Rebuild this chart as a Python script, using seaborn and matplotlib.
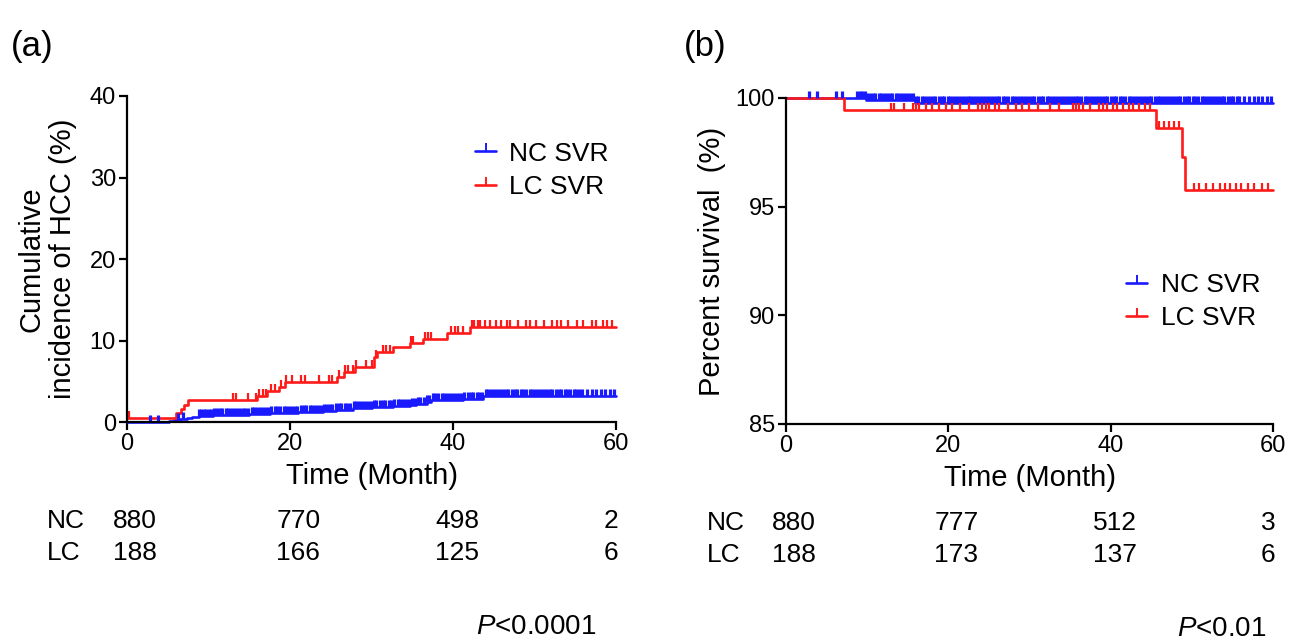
import matplotlib
matplotlib.use("Agg")
import matplotlib.pyplot as plt
from matplotlib.lines import Line2D
import numpy as np
import pandas as pd
import seaborn as sns

# ---- values ----
MONTH_TICKS = [0, 20, 40, 60]
GROUPS = ["NC SVR", "LC SVR"]
PALETTE = {"NC SVR": "#1a1aff", "LC SVR": "#ff1a1a"}
TICK_WIDTH = {"NC SVR": 2.3, "LC SVR": 1.6}

# (a) cumulative incidence of HCC (%), step points
nc_hcc_time = [0, 5.2, 5.8, 6.5, 7.3, 8.0, 8.8, 10.5, 12.5, 15.0, 17.5, 21.0, 24.0,
               25.6, 27.7, 30.0, 32.6, 34.7, 35.5, 36.8, 37.3, 41.2, 43.7, 60]
nc_hcc_pct = [0, 0.11, 0.23, 0.34, 0.45, 0.57, 0.68, 0.8, 0.92, 1.04, 1.16, 1.28, 1.4,
              1.53, 1.66, 1.79, 1.92, 2.1, 2.25, 2.45, 2.65, 2.85, 3.2, 3.2]
lc_hcc_time = [0, 6.0, 6.6, 7.0, 7.5, 16.0, 17.2, 18.6, 19.4, 25.8, 26.6, 28.0, 30.3,
               30.7, 32.6, 34.7, 36.3, 39.3, 42.1, 60]
lc_hcc_pct = [0.53, 1.07, 1.6, 2.13, 2.66, 3.2, 3.8, 4.3, 4.9, 5.5, 6.1, 6.7, 8.0,
              8.6, 9.2, 9.7, 10.2, 10.9, 11.7, 11.7]

# (b) percent survival, step points
nc_surv_time = [0, 9.85, 15.9, 60]
nc_surv_pct = [100, 99.89, 99.77, 99.77]
lc_surv_time = [0, 7.1, 45.6, 48.8, 49.2, 60]
lc_surv_pct = [100, 99.47, 98.6, 97.3, 95.75, 95.75]

# censored observations (months)
nc_censor = [2.8, 3.8, 6.2, 6.9, 8.8, 9.1, 9.4, 9.7, 10.0, 10.3, 10.7, 11.0, 11.4, 11.7,
             12.1, 12.4, 12.8, 13.1, 13.5, 13.8, 14.2, 14.5, 14.9, 15.3, 15.6, 16.0, 16.3,
             16.7, 17.0, 17.4, 17.7, 18.1, 18.4, 18.8, 19.2, 19.5, 19.9, 20.2, 20.6, 20.9,
             21.3, 21.7, 22.0, 22.4, 22.7, 23.1, 23.4, 23.8, 24.2, 24.5, 24.9, 25.2, 25.6,
             26.0, 26.3, 26.7, 27.0, 27.4, 27.8, 28.1, 28.5, 28.8, 29.2, 29.6, 29.9, 30.3,
             30.6, 31.0, 31.4, 31.7, 32.1, 32.4, 32.8, 33.2, 33.5, 33.9, 34.2, 34.6, 35.0,
             35.3, 35.7, 36.0, 36.4, 36.8, 37.1, 37.5, 37.8, 38.2, 38.6, 38.9, 39.3, 39.6,
             40.0, 40.4, 40.7, 41.1, 41.4, 41.8, 42.2, 42.5, 42.9, 43.2, 43.6, 44.0, 44.3,
             44.7, 45.0, 45.4, 45.8, 46.1, 46.5, 46.8, 47.2, 47.6, 47.9, 48.3, 48.6, 49.0,
             49.4, 49.7, 50.1, 50.4, 50.8, 51.2, 51.5, 51.9, 52.2, 52.6, 53.0, 53.3, 53.7,
             54.0, 54.4, 54.8, 55.1, 55.5, 55.8, 56.4, 57.0, 57.6, 58.1, 58.7, 59.3, 59.8]
lc_hcc_censor = [0.2, 13.0, 13.4, 14.8, 15.8, 16.2, 16.7, 17.1, 17.7, 18.1, 18.9, 19.5,
                 20.3, 21.3, 21.8, 23.6, 24.8, 25.2, 26.0, 26.7, 27.1, 27.7, 28.1, 29.3,
                 30.1, 30.5, 31.4, 31.8, 32.3, 34.9, 35.1, 36.5, 36.9, 37.3, 39.8, 40.2,
                 40.6, 41.2, 42.3, 42.6, 43.0, 43.3, 43.9, 44.5, 45.3, 45.9, 46.6, 47.0,
                 48.0, 49.0, 49.4, 50.2, 51.1, 52.1, 52.7, 53.3, 54.1, 55.2, 56.0, 57.0,
                 57.6, 58.4, 58.9, 59.5]
lc_surv_censor = [12.9, 13.3, 14.6, 15.6, 16.0, 16.4, 17.2, 18.0, 18.8, 19.7, 20.5, 21.5,
                  22.5, 23.6, 24.2, 24.6, 25.0, 25.8, 26.2, 27.4, 28.3, 29.1, 29.9, 31.0,
                  32.5, 33.6, 35.3, 35.7, 36.1, 36.6, 37.4, 38.5, 39.0, 39.5, 40.3, 40.8,
                  41.5, 42.2, 42.8, 43.5, 44.2, 44.8, 46.0, 46.6, 47.2, 47.8, 48.4, 50.3,
                  50.9, 51.8, 52.6, 53.5, 54.1, 54.7, 55.4, 56.0, 56.9, 57.7, 58.6, 59.4]

# numbers at risk at 0 / 20 / 40 / 60 months
risk_a = {"NC": [880, 770, 498, 2], "LC": [188, 166, 125, 6]}
risk_b = {"NC": [880, 777, 512, 3], "LC": [188, 173, 137, 6]}

sns.set_theme(style="ticks")
plt.rcParams["font.family"] = ["Liberation Sans", "DejaVu Sans"]
plt.rcParams["mathtext.fontset"] = "custom"
plt.rcParams["mathtext.it"] = "Liberation Sans:italic"
plt.rcParams["mathtext.rm"] = "Liberation Sans"
for key in ["text.color", "axes.labelcolor", "xtick.color", "ytick.color",
            "axes.edgecolor"]:
    plt.rcParams[key] = "black"


def draw_km(ax, curves, censors):
    """curves: {group: (time, pct)}, censors: {group: times}"""
    frames = [
        pd.DataFrame({"month": t, "pct": v, "group": g})
        for g, (t, v) in curves.items()
    ]
    df = pd.concat(frames, ignore_index=True)
    sns.lineplot(
        data=df, x="month", y="pct", hue="group", palette=PALETTE,
        estimator=None, sort=False, drawstyle="steps-post",
        linewidth=1.9, legend=False, ax=ax, clip_on=False,
    )
    # censor ticks sit on the step curve
    for g, times in censors.items():
        t, v = curves[g]
        idx = np.searchsorted(t, times, side="right") - 1
        ax.plot(times, np.asarray(v)[idx], linestyle="none", marker=2,
                markersize=5, markeredgewidth=TICK_WIDTH[g], color=PALETTE[g],
                clip_on=False)


def style_axis(ax, yticks):
    ax.set_xlim(0, 60)
    ax.set_ylim(yticks[0], yticks[-1])
    ax.set_xticks(MONTH_TICKS)
    ax.set_yticks(yticks)
    sns.despine(ax=ax)
    for side in ["left", "bottom"]:
        ax.spines[side].set_linewidth(1.6)
        ax.spines[side].set_color("black")
    ax.tick_params(axis="both", length=6, width=1.6, labelsize=17,
                   color="black", labelcolor="black", pad=2)
    ax.set_xlabel("Time (Month)", fontsize=21)
    ax.xaxis.set_label_coords(0.5, -0.166)
    ax.xaxis.label.set_va("center")


def add_legend(ax, anchor):
    handles = [
        Line2D([0], [0], color=PALETTE[g], lw=1.9, marker=2,
               markersize=6, markeredgewidth=1.4)
        for g in GROUPS
    ]
    ax.legend(handles, GROUPS, loc="center left", bbox_to_anchor=anchor,
              frameon=False, fontsize=19, handlelength=0.8, handletextpad=0.5,
              labelspacing=0.35, numpoints=1, borderaxespad=0)


def add_risk_table(ax, risk, p_text, p_x):
    tr = ax.get_xaxis_transform()
    for name, y in [("NC", -0.304), ("LC", -0.402)]:
        ax.text(-9.8, y, name, transform=tr, fontsize=19, ha="left", va="center")
        for x, val, ha in zip([1.0, 21.0, 40.5, 60.3], risk[name],
                              ["center", "center", "center", "right"]):
            ax.text(x, y, str(val), transform=tr, fontsize=19, ha=ha, va="center")
    ax.text(p_x, -0.63, p_text, transform=tr, fontsize=20, ha="right",
            va="center")


fig = plt.figure(figsize=(13.03, 6.43), dpi=100)
ax_a = fig.add_axes([0.0975, 0.3437, 0.3753, 0.507])
ax_b = fig.add_axes([0.6032, 0.3406, 0.3738, 0.507])

# (a)
draw_km(
    ax_a,
    {"NC SVR": (nc_hcc_time, nc_hcc_pct), "LC SVR": (lc_hcc_time, lc_hcc_pct)},
    {"NC SVR": nc_censor, "LC SVR": lc_hcc_censor},
)
style_axis(ax_a, [0, 10, 20, 30, 40])
ax_a.set_ylabel("Cumulative\nincidence of HCC (%)", fontsize=21, linespacing=1.15)
ax_a.yaxis.set_label_coords(-0.163, 0.5)
ax_a.yaxis.label.set_va("center")
add_legend(ax_a, (0.69, 0.772))
add_risk_table(ax_a, risk_a, "$P$<0.0001", 57.6)

# (b)
draw_km(
    ax_b,
    {"NC SVR": (nc_surv_time, nc_surv_pct), "LC SVR": (lc_surv_time, lc_surv_pct)},
    {"NC SVR": nc_censor, "LC SVR": lc_surv_censor},
)
style_axis(ax_b, [85, 90, 95, 100])
ax_b.set_ylabel("Percent survival  (%)", fontsize=21)
ax_b.yaxis.set_label_coords(-0.152, 0.5)
ax_b.yaxis.label.set_va("center")
add_legend(ax_b, (0.677, 0.375))
add_risk_table(ax_b, risk_b, "$P$<0.01", 59.2)

fig.text(0.008, 0.927, "(a)", fontsize=25, va="center", ha="left")
fig.text(0.525, 0.927, "(b)", fontsize=25, va="center", ha="left")

fig.savefig("out.png", dpi=100)
